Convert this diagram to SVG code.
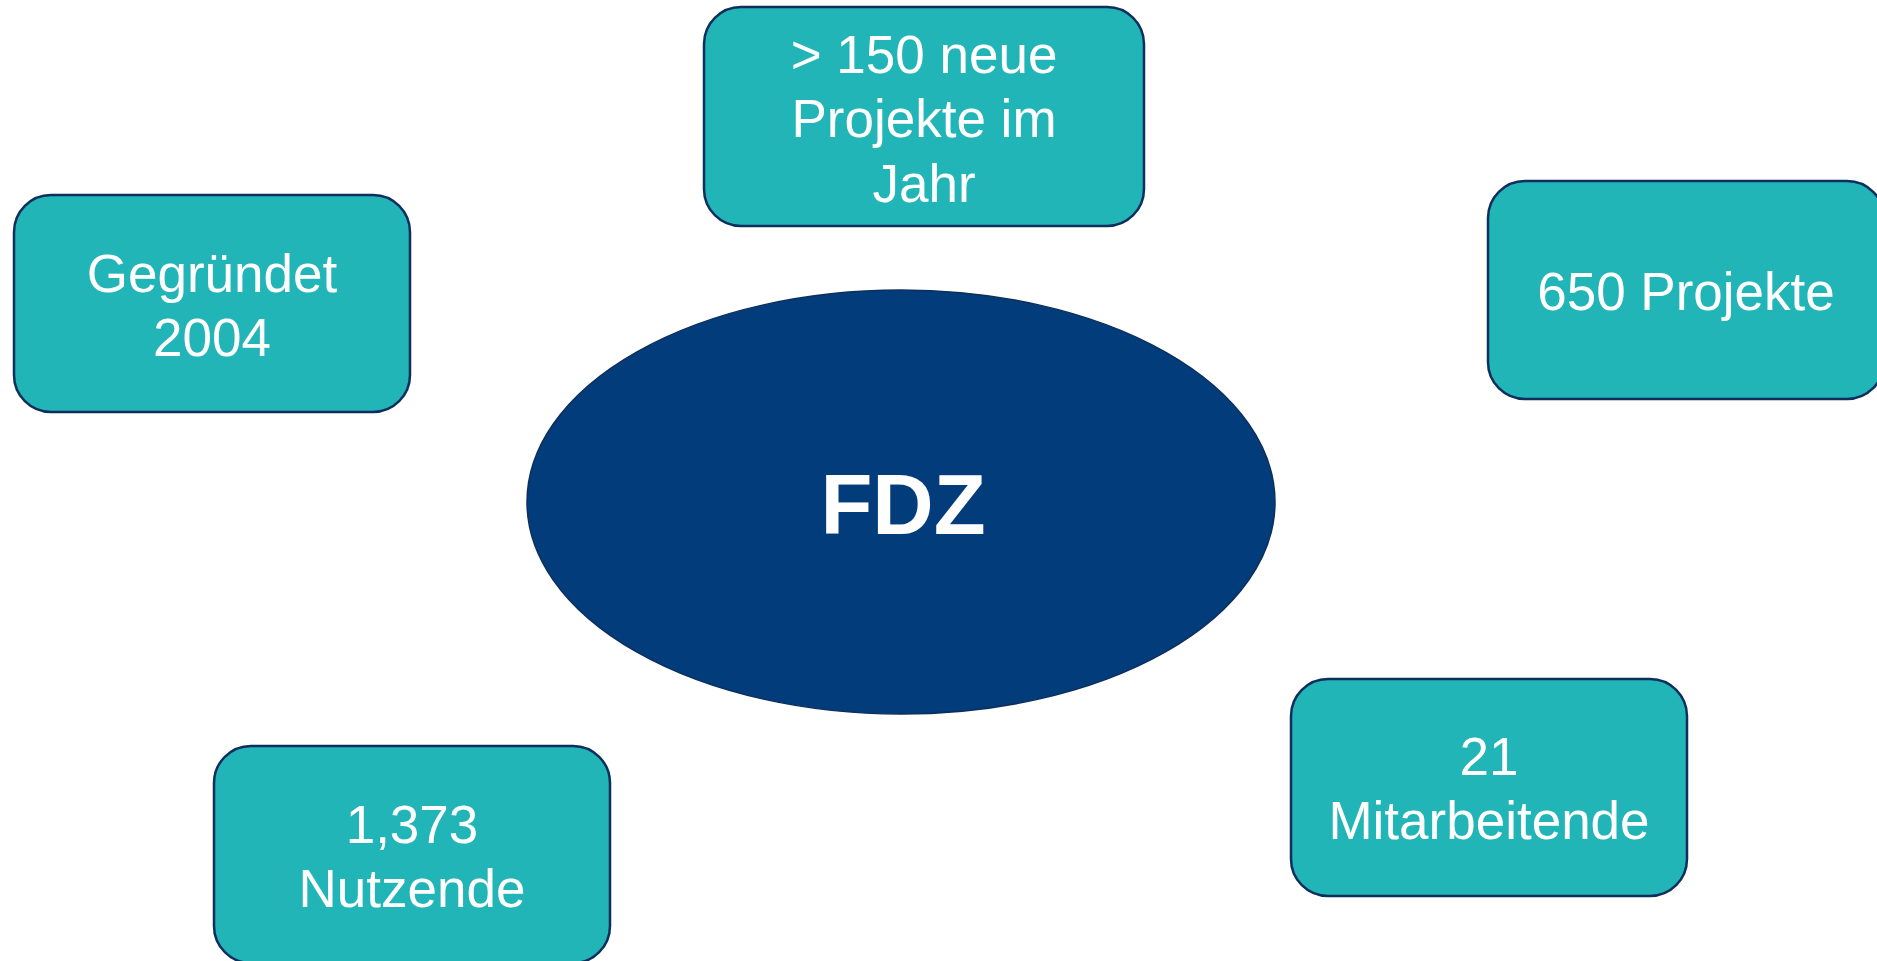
<svg xmlns="http://www.w3.org/2000/svg" width="1877" height="961" viewBox="0 0 1877 961">
<style>
.box{fill:#22B5B8;stroke:#0E2F5E;stroke-width:2.5}
.t{font-family:"Liberation Sans",Arial,sans-serif;font-size:53px;fill:#fff;text-anchor:middle}
.c{font-family:"Liberation Sans",Arial,sans-serif;font-size:85px;font-weight:bold;fill:#fff;text-anchor:middle}
</style>
<rect width="1877" height="961" fill="#fff"/>
<g id="connectors"></g>
<g id="fdz">
<ellipse cx="901" cy="502" rx="374" ry="212" fill="#023C7A" stroke="#0E2F5E" stroke-width="1.5"/>
<text class="c" x="903" y="534">FDZ</text>
</g>
<g id="neue-projekte">
<rect class="box" x="704" y="7" width="440" height="219" rx="37"/>
<text class="t" x="924" y="73">&gt; 150 neue</text>
<text class="t" x="924" y="137">Projekte im</text>
<text class="t" x="924" y="202">Jahr</text>
</g>
<g id="gegruendet">
<rect class="box" x="14" y="195" width="396" height="217" rx="37"/>
<text class="t" x="212" y="292">Gegründet</text>
<text class="t" x="212" y="356">2004</text>
</g>
<g id="projekte">
<rect class="box" x="1488" y="181" width="396" height="218" rx="37"/>
<text class="t" x="1686" y="310">650 Projekte</text>
</g>
<g id="nutzende">
<rect class="box" x="214" y="746" width="396" height="217" rx="37"/>
<text class="t" x="412" y="843">1,373</text>
<text class="t" x="412" y="907">Nutzende</text>
</g>
<g id="mitarbeitende">
<rect class="box" x="1291" y="679" width="396" height="217" rx="37"/>
<text class="t" x="1489" y="775">21</text>
<text class="t" x="1489" y="839">Mitarbeitende</text>
</g>
</svg>
